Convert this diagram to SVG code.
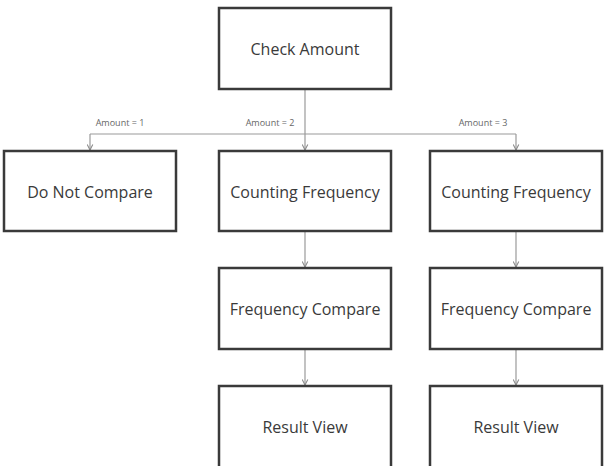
<svg xmlns="http://www.w3.org/2000/svg" width="605" height="466" viewBox="0 0 605 466">
<style>
.box{fill:#fff;stroke:#3a3a3a;stroke-width:2.5}
.t{font-family:"Open Sans","Noto Sans",sans-serif;font-size:16px;fill:#3a3a3a;text-anchor:middle}
.c{fill:none;stroke:#9a9a9a;stroke-width:1.2}
.lbl{font-family:"Open Sans","Noto Sans",sans-serif;font-size:9px;fill:#666;text-anchor:middle}
</style>
<defs>
<marker id="ah" viewBox="0 0 10 10" refX="9" refY="5" markerWidth="7" markerHeight="7" orient="auto" markerUnits="userSpaceOnUse">
<path d="M1,1 L9,5 L1,9" fill="none" stroke="#8a8a8a" stroke-width="1.5"/>
</marker>
</defs>
<rect width="605" height="466" fill="#fff"/>
<g id="connectors">
<path class="c" d="M305,89 V150" marker-end="url(#ah)"/>
<path class="c" d="M90,134 H516"/>
<path class="c" d="M90,134 V150" marker-end="url(#ah)"/>
<path class="c" d="M516,134 V150" marker-end="url(#ah)"/>
<path class="c" d="M305,231 V267" marker-end="url(#ah)"/>
<path class="c" d="M516,231 V267" marker-end="url(#ah)"/>
<path class="c" d="M305,349 V385" marker-end="url(#ah)"/>
<path class="c" d="M516,349 V385" marker-end="url(#ah)"/>
<text class="lbl" x="120" y="126">Amount = 1</text>
<text class="lbl" x="270" y="126">Amount = 2</text>
<text class="lbl" x="483" y="126">Amount = 3</text>
</g>
<g id="check"><rect class="box" x="219" y="8" width="172" height="81"/><text class="t" x="305" y="55">Check Amount</text></g>
<g id="donot"><rect class="box" x="4" y="151" width="172" height="80"/><text class="t" x="90" y="198">Do Not Compare</text></g>
<g id="count2"><rect class="box" x="219" y="151" width="172" height="80"/><text class="t" x="305" y="198">Counting Frequency</text></g>
<g id="count3"><rect class="box" x="430" y="151" width="172" height="80"/><text class="t" x="516" y="198">Counting Frequency</text></g>
<g id="freq2"><rect class="box" x="219" y="268" width="172" height="81"/><text class="t" x="305" y="315">Frequency Compare</text></g>
<g id="freq3"><rect class="box" x="430" y="268" width="172" height="81"/><text class="t" x="516" y="315">Frequency Compare</text></g>
<g id="result2"><rect class="box" x="219" y="386" width="172" height="84"/><text class="t" x="305" y="433">Result View</text></g>
<g id="result3"><rect class="box" x="430" y="386" width="172" height="84"/><text class="t" x="516" y="433">Result View</text></g>
</svg>
